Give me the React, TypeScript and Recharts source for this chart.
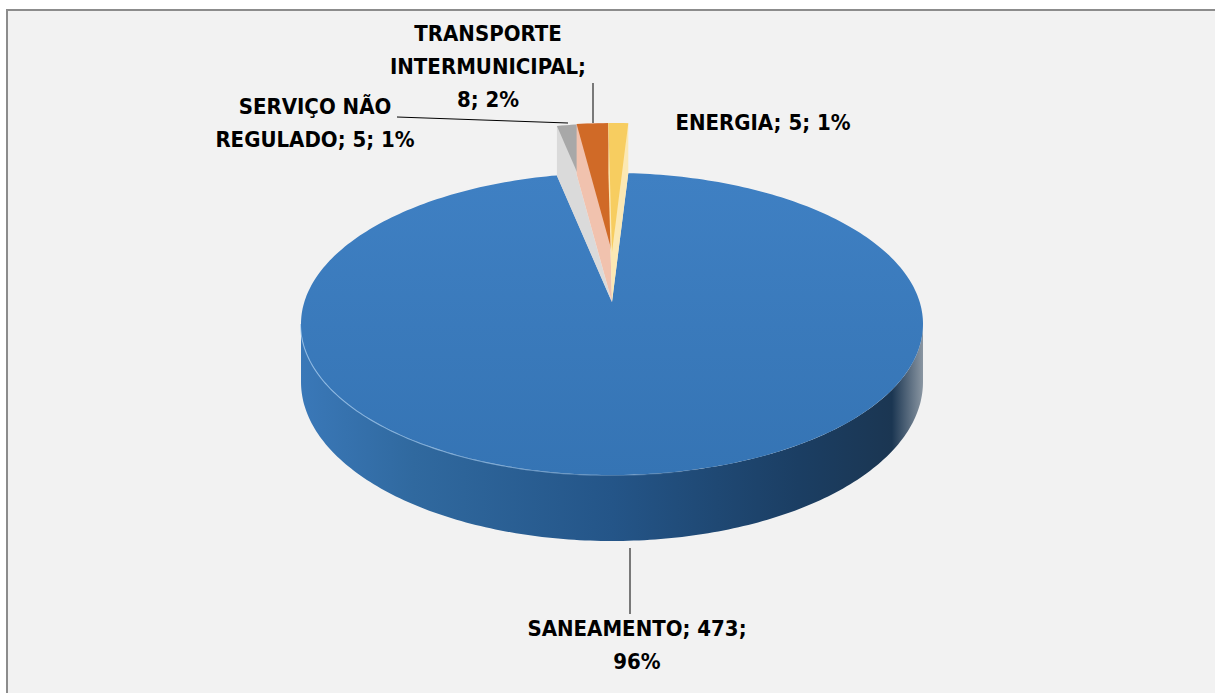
import React from "react";
import { PieChart, Pie } from "recharts";

// complaint counts by sector
const categories = ["SANEAMENTO", "SERVIÇO NÃO REGULADO", "TRANSPORTE INTERMUNICIPAL", "ENERGIA"];
const counts = [473, 5, 8, 5];

const data = categories.map((name, i) => ({ name, value: counts[i] }));

const TOP_COLORS: Record<string, string> = {
  SANEAMENTO: "url(#topBlue)",
  "SERVIÇO NÃO REGULADO": "#a8a8a8",
  "TRANSPORTE INTERMUNICIPAL": "#d06a27",
  ENERGIA: "#f7cd60",
};
const SIDE_COLORS: Record<string, string> = {
  SANEAMENTO: "#dfe8f2",
  "SERVIÇO NÃO REGULADO": "#dadada",
  "TRANSPORTE INTERMUNICIPAL": "#f1c2ae",
  ENERGIA: "#fbe8b4",
};

// label placement, relative to pie centre
const LABELS: Record<string, { x: number; y: number; wrap: number[]; leader?: number[][] }> = {
  SANEAMENTO: { x: 25, y: 326, wrap: [2, 1], leader: [[18, 246], [18, 312]] },
  "SERVIÇO NÃO REGULADO": { x: -297, y: -196, wrap: [2, 3], leader: [[-215, -185], [-44, -179]] },
  "TRANSPORTE INTERMUNICIPAL": { x: -124, y: -269, wrap: [1, 1, 2], leader: [[-19, -219], [-19, -179]] },
  ENERGIA: { x: 151, y: -180, wrap: [4] },
};

const RY_RATIO = 151 / 311;
const RIM_DROP = 22;
const EXPLODE = 50;
const FONT = "'DejaVu Sans Condensed', 'DejaVu Sans', sans-serif";

const rad = (d: number) => (d * Math.PI) / 180;
const depth = (d: number) => 58 - 8 * Math.sin(rad(d));
const rim = (cx: number, cy: number, r: number, d: number) => [
  cx + r * Math.cos(rad(d)),
  cy + RIM_DROP - r * RY_RATIO * Math.sin(rad(d)),
];
const arc = (cx: number, cy: number, r: number, a0: number, a1: number) => {
  const n = Math.max(2, Math.ceil(Math.abs(a1 - a0)));
  const pts: number[][] = [];
  for (let i = 0; i <= n; i++) pts.push(rim(cx, cy, r, a0 + ((a1 - a0) * i) / n));
  return pts;
};
const toPath = (pts: number[][]) =>
  "M" + pts.map((p) => p[0].toFixed(2) + "," + p[1].toFixed(2)).join("L") + "Z";

const Slice3D = (props: any) => {
  const { cx, cy, outerRadius: r, startAngle, endAngle, name, percent } = props;
  const mid = (startAngle + endAngle) / 2;
  const exploded = percent < 0.1;
  const px = cx;
  const py = cy + (exploded ? -EXPLODE * Math.sin(rad(mid)) : 0);
  const top = arc(px, py, r, startAngle, endAngle);
  const topPts = [[px, py], ...top];
  const parts: React.ReactNode[] = [];

  if (exploded) {
    const a = top[0];
    const b = top[top.length - 1];
    const ext = [
      ...top,
      [b[0], b[1] + depth(endAngle)],
      [px, py + depth(90)],
      [a[0], a[1] + depth(startAngle)],
    ];
    parts.push(<path key="ext" d={toPath(ext)} fill={SIDE_COLORS[name]} />);
  } else {
    // radial cut faces
    [startAngle, endAngle].forEach((ang, k) => {
      const e = rim(px, py, r, ang);
      const face = [
        [px, py],
        e,
        [e[0], e[1] + depth(ang)],
        [px, py + depth(90)],
      ];
      parts.push(<path key={"cut" + k} d={toPath(face)} fill={SIDE_COLORS[name]} />);
    });
    // front wall
    const lo = Math.max(Math.min(startAngle, endAngle), -180);
    const hi = Math.min(Math.max(startAngle, endAngle), 0);
    if (lo < hi) {
      const upper = arc(px, py, r, lo, hi);
      const lower = upper
        .map((p, i) => [p[0], p[1] + depth(lo + ((hi - lo) * i) / (upper.length - 1))])
        .reverse();
      parts.push(<path key="wall" d={toPath([...upper, ...lower])} fill="url(#sideBlue)" />);
      parts.push(
        <path
          key="hi"
          d={"M" + upper.map((p) => p[0].toFixed(2) + "," + p[1].toFixed(2)).join("L")}
          fill="none"
          stroke="url(#rimHi)"
          strokeWidth={2}
        />
      );
    }
  }
  parts.push(<path key="top" d={toPath(topPts)} fill={TOP_COLORS[name]} />);
  return <g>{parts}</g>;
};

const SliceLabel = (props: any) => {
  const { cx, cy, name, value, percent } = props;
  const lay = LABELS[name];
  if (!lay) return null;
  const words = `${name}; ${value}; ${Math.round(percent * 100)}%`.split(" ");
  const lines: string[] = [];
  let k = 0;
  lay.wrap.forEach((n) => {
    lines.push(words.slice(k, k + n).join(" "));
    k += n;
  });
  return (
    <g>
      {lay.leader && (
        <polyline
          points={lay.leader.map((p) => `${cx + p[0]},${cy + p[1]}`).join(" ")}
          fill="none"
          stroke="#000"
          strokeWidth={1}
        />
      )}
      {lines.map((t, i) => (
        <text
          key={i}
          x={cx + lay.x}
          y={cy + lay.y + i * 33}
          textAnchor="middle"
          dominantBaseline="central"
          fontFamily={FONT}
          fontWeight="bold"
          fontSize={22}
          fill="#000"
        >
          {t}
        </text>
      ))}
    </g>
  );
};

export default function App() {
  return (
    <div style={{ position: "absolute", left: 0, top: 0, width: 1215, height: 693, overflow: "hidden", background: "#fff" }}>
      <div
        style={{
          position: "absolute",
          left: 6,
          top: 9,
          width: 1300,
          height: 800,
          border: "2px solid #8c8c8c",
          background: "#f2f2f2",
        }}
      />
      <div style={{ position: "absolute", left: 0, top: 0 }}>
        <PieChart width={1215} height={693}>
          <defs>
            <linearGradient id="topBlue" x1="0" y1="0" x2="0" y2="1">
              <stop offset="0%" stopColor="#3f80c3" />
              <stop offset="100%" stopColor="#3574b4" />
            </linearGradient>
            <linearGradient id="sideBlue" x1="0" y1="0" x2="1" y2="0">
              <stop offset="0%" stopColor="#3a78b8" />
              <stop offset="18%" stopColor="#30699f" />
              <stop offset="50%" stopColor="#245588" />
              <stop offset="80%" stopColor="#1b3e63" />
              <stop offset="95%" stopColor="#1b3652" />
              <stop offset="100%" stopColor="#8a96a2" />
            </linearGradient>
            <linearGradient id="rimHi" x1="0" y1="0" x2="1" y2="0">
              <stop offset="0%" stopColor="#a8cdf0" stopOpacity={0.8} />
              <stop offset="35%" stopColor="#a8cdf0" stopOpacity={0.6} />
              <stop offset="65%" stopColor="#a8cdf0" stopOpacity={0} />
            </linearGradient>
          </defs>
          <Pie
            data={data}
            dataKey="value"
            nameKey="name"
            cx={607}
            cy={297}
            outerRadius={311}
            startAngle={87}
            endAngle={-273}
            stroke="none"
            shape={Slice3D}
            label={SliceLabel}
            labelLine={false}
            isAnimationActive={false}
          />
        </PieChart>
      </div>
    </div>
  );
}
